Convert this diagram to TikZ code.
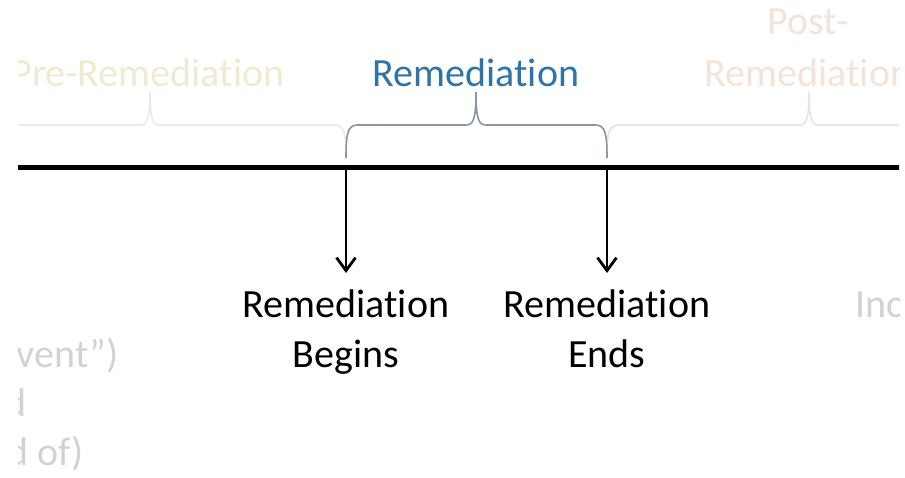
\documentclass[tikz,border=0pt]{standalone}
\usepackage{fontspec}
\setmainfont{Carlito}[Ligatures={NoCommon}]
\usetikzlibrary{arrows.meta}
\definecolor{preC}{HTML}{EEEBD0}
\definecolor{preB}{HTML}{EDEBE0}
\definecolor{remC}{HTML}{2E74A8}
\definecolor{remB}{HTML}{8597A9}
\definecolor{postC}{HTML}{F4E3D6}
\definecolor{postB}{HTML}{E9E4E1}
\definecolor{ghost}{HTML}{D2D2D2}
\newcommand\mybrace[4]{% color, left, mid, right
  \draw[bracestyle,#1] (#2,158) .. controls (#2,132) and ({#2+2},125) .. ({#2+12},125)
    -- ({#3-10},125) .. controls ({#3-3},125) and (#3,120) .. (#3,92)
    .. controls (#3,120) and ({#3+3},125) .. ({#3+10},125)
    -- ({#4-12},125) .. controls ({#4-2},125) and (#4,132) .. (#4,158);}
\begin{document}
\begin{tikzpicture}[x=1pt,y=-1pt,
  lbl/.style={font=\fontsize{40}{48}\selectfont, inner sep=0pt, anchor=base},
  bracestyle/.style={line width=1.6pt},
  arr/.style={line width=2.8pt,-{Straight Barb[length=13pt,width=19pt,line width=2.8pt]}}]
\useasboundingbox (0,0) rectangle (905,478);
\begin{scope}
\clip (18,0) rectangle (899,478);
% braces
\mybrace{preB}{-46}{150}{346}
\mybrace{postB}{607}{809}{1011}
\mybrace{remB}{346}{476}{607}
% phase labels
\node[lbl,text=preC] (pre) at (148,87) {Pre-Remediation};
\node[lbl,text=remC] (rem) at (476,87) {Remediation};
\node[lbl,text=postC] (post1) at (808,35) {Post-};
\node[lbl,text=postC] (post2) at (808,87) {Remediation};
% timeline
\coordinate (tl) at (10,168);
\coordinate (tr) at (910,168);
\draw[line width=5pt] (tl) -- (tr);
% arrows
\coordinate (b0) at (346,168);
\coordinate (b1) at (346,273);
\coordinate (e0) at (607,168);
\coordinate (e1) at (607,273);
\draw[arr] (b0) -- (b1);
\draw[arr] (e0) -- (e1);
% event labels
\node[lbl] (rb1) at (346,318) {Remediation};
\node[lbl] (rb2) at (346,367) {Begins};
\node[lbl] (re1) at (607,318) {Remediation};
\node[lbl] (re2) at (607,367) {Ends};
% faint clipped texts
\node[lbl,text=ghost,anchor=base east] (g1) at (119,367) {vent”)};
\node[lbl,text=ghost,anchor=base east] (g2) at (27,416) {d};
\node[lbl,text=ghost,anchor=base east] (g3) at (84,465) {d of)};
\node[lbl,text=ghost,anchor=base west] (g4) at (855,318) {Inc};
\end{scope}
\end{tikzpicture}
\end{document}
